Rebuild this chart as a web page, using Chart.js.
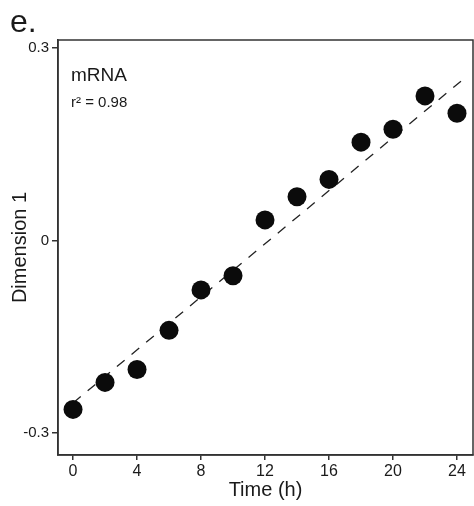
<!DOCTYPE html>
<html>
<head>
<meta charset="utf-8">
<script src="https://cdn.jsdelivr.net/npm/chart.js@4"></script>
<style>
  html, body { margin: 0; padding: 0; background: #fff; }
  #wrap { width: 474px; height: 506px; }
</style>
</head>
<body>
<div id="wrap"><canvas id="chart" width="474" height="506"></canvas></div>
<script>
// data
const hours = [0, 2, 4, 6, 8, 10, 12, 14, 16, 18, 20, 22, 24];
const dimension1 = [-0.263, -0.221, -0.201, -0.140, -0.077, -0.055, 0.032, 0.068, 0.095, 0.153, 0.173, 0.225, 0.198];

// dashed fit line (end points)
const fitX = [0, 24.4];
const fitY = [-0.253, 0.251];

const xTicks = [0, 4, 8, 12, 16, 20, 24];
const yTicks = [-0.3, 0, 0.3];
const yTickLabels = ['-0.3', '0', '0.3'];

const FONT = "'Liberation Sans', Arial, sans-serif";
const INK = '#1a1a1a';
const AXIS = '#333';

// box around plot + panel letter + annotation
const decorations = {
    id: 'decorations',
    afterDraw(chart) {
        const ctx = chart.ctx;
        const a = chart.chartArea;
        ctx.save();
        ctx.strokeStyle = AXIS;
        ctx.lineWidth = 1.5;
        ctx.strokeRect(a.left, a.top, a.right - a.left, a.bottom - a.top);

        ctx.fillStyle = INK;
        ctx.textAlign = 'left';
        ctx.textBaseline = 'alphabetic';
        ctx.font = '32px ' + FONT;
        ctx.fillText('e.', 10, 31.5);

        ctx.font = '19px ' + FONT;
        ctx.fillText('mRNA', a.left + 13, 80.5);
        ctx.font = '15px ' + FONT;
        ctx.fillText('r\u00B2 = 0.98', a.left + 13, 107);
        ctx.restore();
    }
};

new Chart(document.getElementById('chart').getContext('2d'), {
    type: 'scatter',
    data: {
        datasets: [
            {
                label: 'mRNA',
                data: hours.map((h, i) => ({ x: h, y: dimension1[i] })),
                backgroundColor: '#0b0b0b',
                borderColor: '#0b0b0b',
                borderWidth: 0,
                pointRadius: 9.5,
                order: 1
            },
            {
                label: 'fit',
                type: 'line',
                data: fitX.map((x, i) => ({ x: x, y: fitY[i] })),
                borderColor: '#222',
                borderWidth: 1.3,
                borderDash: [10, 9],
                pointRadius: 0,
                fill: false,
                order: 2
            }
        ]
    },
    options: {
        responsive: false,
        animation: false,
        layout: { autoPadding: false, padding: { top: 40, right: 1, left: 0, bottom: 0 } },
        plugins: {
            legend: { display: false },
            tooltip: { enabled: false }
        },
        scales: {
            x: {
                type: 'linear',
                min: -0.94,
                max: 25.0,
                afterBuildTicks: s => { s.ticks = xTicks.map(v => ({ value: v })); },
                afterFit: s => { s.height = 51; s.paddingLeft = 0; s.paddingRight = 0; },
                grid: { drawOnChartArea: false, drawTicks: true, tickLength: 5, color: AXIS, lineWidth: 1.5 },
                border: { display: true, color: AXIS, width: 1.5 },
                ticks: { color: INK, font: { family: FONT, size: 16 }, padding: 2, maxRotation: 0 },
                title: { display: true, text: 'Time (h)', color: INK, font: { family: FONT, size: 20 }, padding: { top: 4, bottom: 4 } }
            },
            y: {
                type: 'linear',
                min: -0.334,
                max: 0.312,
                afterBuildTicks: s => { s.ticks = yTicks.map(v => ({ value: v })); },
                afterFit: s => { s.width = 58; s.paddingTop = 0; s.paddingBottom = 0; },
                grid: { drawOnChartArea: false, drawTicks: true, tickLength: 6, color: AXIS, lineWidth: 1.5 },
                border: { display: true, color: AXIS, width: 1.5 },
                ticks: {
                    color: INK,
                    font: { family: FONT, size: 15 },
                    padding: 3,
                    callback: (v, i) => yTickLabels[i]
                },
                title: { display: true, text: 'Dimension 1', color: INK, font: { family: FONT, size: 20 }, padding: { top: 8, bottom: 8 } }
            }
        }
    },
    plugins: [decorations]
});
</script>
</body>
</html>
